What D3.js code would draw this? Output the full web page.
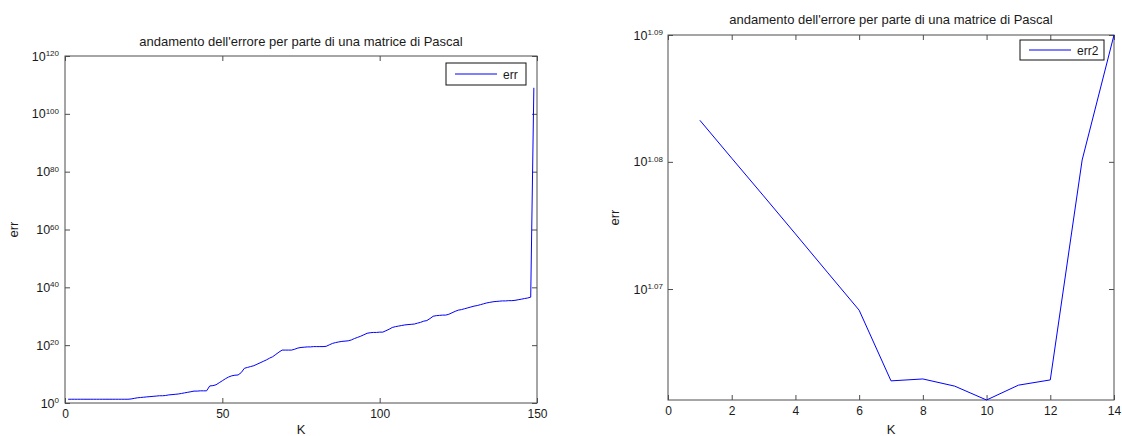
<!DOCTYPE html>
<html><head><meta charset="utf-8">
<script src="https://cdn.jsdelivr.net/npm/d3@7"></script>
<style>
body{margin:0;background:#fff}
svg{display:block}
text{font-family:"Liberation Sans",Arial,Helvetica,sans-serif;fill:#1a1a1a}
</style>
</head><body>
<svg id="c" width="1122" height="436"></svg>
<script>
const titleText = "andamento dell'errore per parte di una matrice di Pascal";

// ---- left chart: err, K = 1..149 ----
const errValues = [
  2.0e1,2.0e1,2.0e1,2.0e1,2.0e1,2.0e1,2.0e1,2.0e1,2.0e1,2.0e1,
  2.0e1,2.0e1,2.0e1,2.0e1,2.0e1,2.0e1,2.0e1,2.0e1,2.0e1,2.0e1,
  2.5e1,4.0e1,6.3e1,7.9e1,1.0e2,1.3e2,1.6e2,2.0e2,2.5e2,3.2e2,
  3.2e2,4.0e2,6.3e2,7.9e2,1.0e3,1.3e3,2.0e3,3.2e3,5.0e3,7.9e3,
  1.3e4,1.3e4,1.6e4,1.6e4,1.6e4,7.9e5,1.0e6,2.0e6,1.0e7,5.0e7,
  2.5e8,1.0e9,2.5e9,4.0e9,5.0e9,3.2e10,1.0e12,2.0e12,4.0e12,7.9e12,
  2.5e13,7.9e13,2.5e14,7.9e14,3.2e15,1.0e16,6.3e16,4.0e17,2.0e18,2.0e18,
  2.0e18,2.0e18,4.0e18,1.0e19,1.6e19,2.0e19,2.5e19,2.5e19,3.2e19,3.2e19,
  3.2e19,3.2e19,4.0e19,1.3e20,4.0e20,7.9e20,1.3e21,2.0e21,2.5e21,3.2e21,
  6.3e21,2.0e22,5.0e22,1.3e23,4.0e23,1.3e24,2.0e24,2.5e24,2.5e24,3.2e24,
  3.2e24,1.0e25,3.2e25,1.3e26,2.5e26,4.0e26,6.3e26,1.0e27,1.3e27,1.6e27,
  2.0e27,4.0e27,7.9e27,2.0e28,3.2e28,1.6e29,1.0e30,1.6e30,2.0e30,2.5e30,
  2.5e30,5.0e30,1.6e31,5.0e31,1.3e32,2.0e32,4.0e32,7.9e32,1.6e33,3.2e33,
  5.0e33,1.0e34,2.0e34,4.0e34,6.3e34,1.0e35,1.3e35,1.6e35,2.0e35,2.0e35,
  2.5e35,2.5e35,3.2e35,5.0e35,7.9e35,1.3e36,2.0e36,4.0e36,1.0e109
];
const errK = d3.range(1, errValues.length + 1);
const leftXTicks = [0, 50, 100, 150];
const leftYTicks = [1e0, 1e20, 1e40, 1e60, 1e80, 1e100, 1e120];
const leftYTickExp = ["0", "20", "40", "60", "80", "100", "120"];

// ---- right chart: err2, K = 1..14 ----
const err2K = [1,2,3,4,5,6,7,8,9,10,11,12,13,14];
const err2Values = [12.114, 12.031, 11.949, 11.867, 11.785, 11.704, 11.555,
                    11.559, 11.544, 11.515, 11.546, 11.557, 12.027, 12.3027];
const rightXTicks = [0, 2, 4, 6, 8, 10, 12, 14];
const rightYTicks = [11.749, 12.023, 12.3027];
const rightYTickExp = ["1.07", "1.08", "1.09"];

const svg = d3.select("#c");
const AX = "#4d4d4d";

function drawPanel(cfg) {
  const {x0, x1, y0, y1, xDomain, yDomain, xTicks, yTicks, yExp, K, V, legend, legendBox, titleY, yLabelX, yPad} = cfg;
  const x = d3.scaleLinear().domain(xDomain).range([x0, x1]);
  const y = d3.scaleLog().domain(yDomain).range([y1, y0]);
  const g = svg.append("g");

  g.append("rect").attr("x", x0).attr("y", y0).attr("width", x1 - x0).attr("height", y1 - y0)
    .attr("fill", "none").attr("stroke", AX).attr("stroke-width", 1);

  const gb = g.append("g").attr("transform", `translate(0,${y1})`)
    .call(d3.axisBottom(x).tickValues(xTicks).tickSizeInner(-5).tickSizeOuter(0).tickPadding(6).tickFormat(d3.format("d")));
  const gt = g.append("g").attr("transform", `translate(0,${y0})`)
    .call(d3.axisTop(x).tickValues(xTicks).tickSizeInner(-5).tickSizeOuter(0).tickFormat(""));
  const gl = g.append("g").attr("transform", `translate(${x0},0)`)
    .call(d3.axisLeft(y).tickValues(yTicks).tickSizeInner(-5).tickSizeOuter(0).tickPadding(yPad).tickFormat(""));
  const gr = g.append("g").attr("transform", `translate(${x1},0)`)
    .call(d3.axisRight(y).tickValues(yTicks).tickSizeInner(-5).tickSizeOuter(0).tickFormat(""));

  [gb, gt, gl, gr].forEach(a => {
    a.select(".domain").remove();
    a.selectAll(".tick line").attr("stroke", AX);
  });
  gb.selectAll(".tick text").attr("font-size", 12).attr("fill", "#1a1a1a")
    .style("font-family", '"Liberation Sans",Arial,sans-serif');
  gl.selectAll(".tick text").each(function(d, i) {
    const t = d3.select(this);
    t.text(null).attr("font-size", 12.5).attr("fill", "#1a1a1a")
      .style("font-family", '"Liberation Sans",Arial,sans-serif');
    t.append("tspan").text("10");
    t.append("tspan").attr("dy", "-0.55em").attr("font-size", 8).text(yExp[i]);
  });

  const line = d3.line().x((d, i) => x(K[i])).y(d => y(d));
  g.append("path").datum(V).attr("d", line).attr("fill", "none")
    .attr("stroke", "#0000ff").attr("stroke-width", 1);

  g.append("text").attr("x", (x0 + x1) / 2).attr("y", titleY).attr("text-anchor", "middle")
    .attr("font-size", 13).text(titleText);
  g.append("text").attr("x", (x0 + x1) / 2).attr("y", 434).attr("text-anchor", "middle")
    .attr("font-size", 13).text("K");
  g.append("text").attr("transform", `translate(${yLabelX},${(y0 + y1) / 2}) rotate(-90)`)
    .attr("text-anchor", "middle").attr("font-size", 13).text("err");

  const lb = legendBox;
  const lg = g.append("g");
  lg.append("rect").attr("x", x1 - lb.right - lb.w).attr("y", y0 + lb.top).attr("width", lb.w).attr("height", lb.h)
    .attr("fill", "#fff").attr("stroke", "#111").attr("stroke-width", 1);
  lg.append("line").attr("x1", x1 - lb.right - lb.w + 9).attr("x2", x1 - lb.right - lb.w + 51)
    .attr("y1", y0 + lb.top + lb.h / 2).attr("y2", y0 + lb.top + lb.h / 2)
    .attr("stroke", "#0000ff").attr("stroke-width", 1);
  lg.append("text").attr("x", x1 - lb.right - lb.w + 57).attr("y", y0 + lb.top + lb.h / 2 + 4.5)
    .attr("font-size", 12).text(legend);
}

drawPanel({
  x0: 65, x1: 537, y0: 56, y1: 403,
  xDomain: [0, 150], yDomain: [1, 1e120],
  xTicks: leftXTicks, yTicks: leftYTicks, yExp: leftYTickExp,
  K: errK, V: errValues, legend: "err",
  legendBox: {right: 11, top: 7, w: 80, h: 22},
  titleY: 46, yLabelX: 18, yPad: 6
});

drawPanel({
  x0: 668, x1: 1114, y0: 35, y1: 400,
  xDomain: [0, 14], yDomain: d3.extent(err2Values),
  xTicks: rightXTicks, yTicks: rightYTicks, yExp: rightYTickExp,
  K: err2K, V: err2Values, legend: "err2",
  legendBox: {right: 10, top: 5, w: 84, h: 20},
  titleY: 24, yLabelX: 619, yPad: 5
});
</script>
</body></html>
